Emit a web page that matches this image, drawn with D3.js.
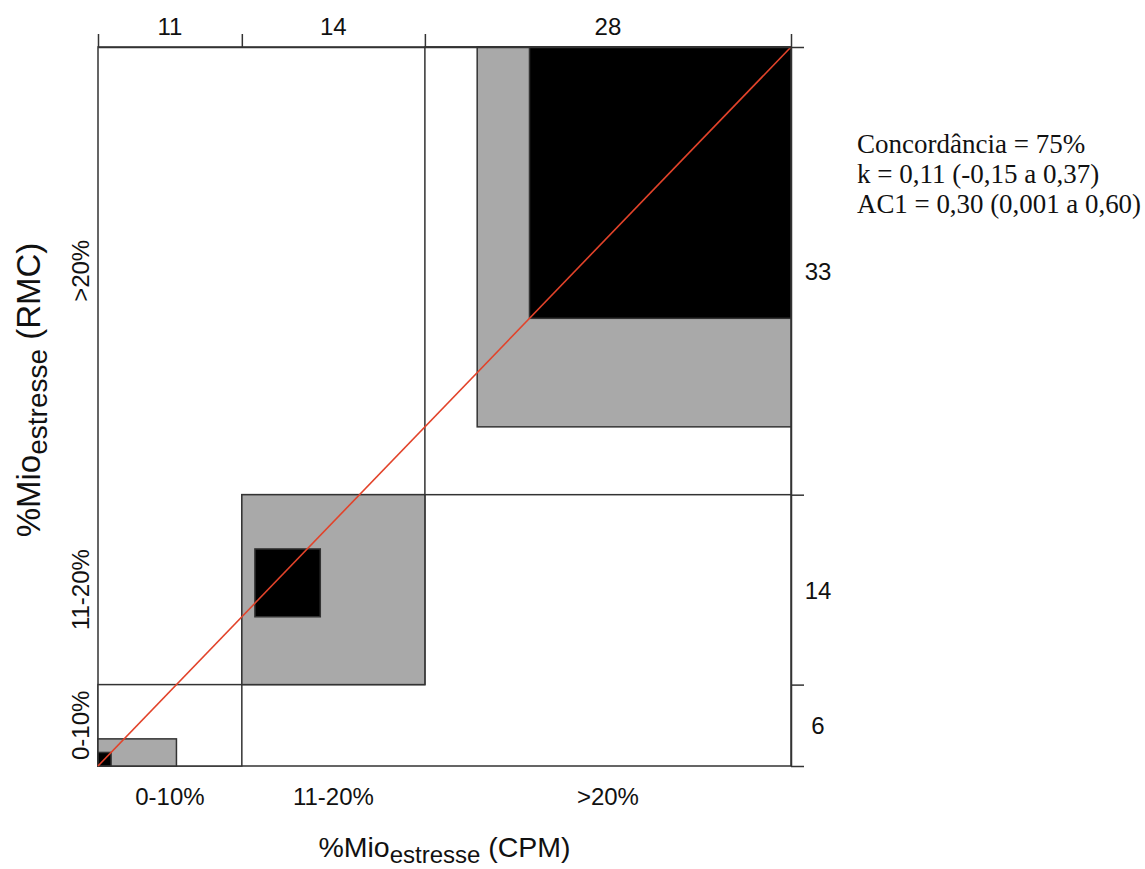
<!DOCTYPE html>
<html>
<head>
<meta charset="utf-8">
<script src="https://cdn.jsdelivr.net/npm/d3@7"></script>
<style>
  body { margin: 0; background: #fff; }
  text { font-family: "Liberation Sans", Arial, sans-serif; fill: #111; }
</style>
</head>
<body>
<div id="chart"></div>
<script>
// categories (same for both methods)
const cpmCats = ["0-10%", "11-20%", ">20%"];
const rmcCats = ["0-10%", "11-20%", ">20%"];
// counts: rows = RMC, columns = CPM
const counts = [
  [1, 1, 4],
  [5, 5, 4],
  [5, 8, 20]
];
// agreement weights (exact, partial)
const weights = [1, 0.75];
const statsLines = [
  "Concordância = 75%",
  "k = 0,11 (-0,15 a 0,37)",
  "AC1 = 0,30 (0,001 a 0,60)"
];

const W = 1145, H = 869;
const plotL = 98, plotR = 791, plotT = 47, plotB = 766;

const svg = d3.select("#chart").append("svg")
  .attr("width", W).attr("height", H);

const nc = cpmCats.length;
const colTot = d3.range(nc).map(c => d3.sum(counts, r => r[c]));
const rowTot = counts.map(r => d3.sum(r));
const n = d3.sum(colTot);
const xc = [0].concat(Array.from(d3.cumsum(colTot)));
const yc = [0].concat(Array.from(d3.cumsum(rowTot)));

const x = d3.scaleLinear().domain([0, n]).range([plotL, plotR]);
const y = d3.scaleLinear().domain([0, n]).range([plotB, plotT]);

const grayFor = w => { const g = Math.round(255 * Math.sqrt(1 - w * w)); return `rgb(${g},${g},${g})`; };

// build rectangles like vcd::agreementplot
const rects = [];
for (let i = 0; i < nc; i++) {
  rects.push({x0: xc[i], y0: yc[i], w: colTot[i], h: rowTot[i], fill: "#fff"});
  for (let j = weights.length; j >= 1; j--) {
    const lb = Math.max(0, i - j + 1), ub = Math.min(nc - 1, i + j - 1);
    let xoff = 0, yoff = 0, w = 0, h = 0;
    for (let r = 0; r < lb; r++) xoff += counts[r][i];
    for (let c = 0; c < lb; c++) yoff += counts[i][c];
    for (let k = lb; k <= ub; k++) { w += counts[k][i]; h += counts[i][k]; }
    rects.push({x0: xc[i] + xoff, y0: yc[i] + yoff, w: w, h: h, fill: grayFor(weights[j - 1])});
  }
}

// outer frame of the plot region
svg.append("rect")
  .attr("x", x(0)).attr("y", y(n))
  .attr("width", x(n) - x(0)).attr("height", y(0) - y(n))
  .attr("fill", "none")
  .attr("stroke", "#333")
  .attr("stroke-width", 1.5);

svg.selectAll("rect.cell")
  .data(rects)
  .join("rect")
    .attr("class", "cell")
    .attr("x", d => x(d.x0))
    .attr("y", d => y(d.y0 + d.h))
    .attr("width", d => x(d.w) - x(0))
    .attr("height", d => y(0) - y(d.h))
    .attr("fill", d => d.fill)
    .attr("stroke", "#333")
    .attr("stroke-width", 1.5);

// diagonal
svg.append("line")
  .attr("x1", x(0)).attr("y1", y(0))
  .attr("x2", x(n)).attr("y2", y(n))
  .attr("stroke", "#e2432a")
  .attr("stroke-width", 1.6);

// top axis with column totals
const topAxis = svg.append("g")
  .attr("transform", `translate(0,${plotT})`)
  .call(d3.axisTop(x).tickValues(xc).tickFormat("").tickSize(13).tickSizeOuter(0));
// right axis with row totals
const rightAxis = svg.append("g")
  .attr("transform", `translate(${plotR},0)`)
  .call(d3.axisRight(y).tickValues(yc).tickFormat("").tickSize(13).tickSizeOuter(0));
[topAxis, rightAxis].forEach(g => {
  g.selectAll("path, line").attr("stroke", "#333").attr("stroke-width", 1.5);
});

svg.selectAll("text.coltot")
  .data(colTot)
  .join("text")
    .attr("class", "coltot")
    .attr("x", (d, i) => x(xc[i] + d / 2))
    .attr("y", 35)
    .attr("text-anchor", "middle")
    .attr("font-size", 24)
    .text(d => d);

svg.selectAll("text.rowtot")
  .data(rowTot)
  .join("text")
    .attr("class", "rowtot")
    .attr("x", 818)
    .attr("y", (d, i) => y(yc[i] + d / 2) + 9)
    .attr("text-anchor", "middle")
    .attr("font-size", 24)
    .text(d => d);

// category labels
svg.selectAll("text.xcat")
  .data(cpmCats)
  .join("text")
    .attr("class", "xcat")
    .attr("x", (d, i) => x(xc[i] + colTot[i] / 2))
    .attr("y", 805)
    .attr("text-anchor", "middle")
    .attr("font-size", 24)
    .text(d => d);

svg.selectAll("text.ycat")
  .data(rmcCats)
  .join("text")
    .attr("class", "ycat")
    .attr("transform", (d, i) => `translate(89,${y(yc[i] + rowTot[i] / 2)}) rotate(-90)`)
    .attr("text-anchor", "middle")
    .attr("font-size", 24)
    .text(d => d);

// axis titles
function title(g, method, sub, shift) {
  g.append("tspan").text("%Mio");
  g.append("tspan").attr("font-size", sub).attr("dy", shift).text("estresse");
  g.append("tspan").attr("dy", -shift).text(` (${method})`);
}
const xTitle = svg.append("text")
  .attr("x", (plotL + plotR) / 2)
  .attr("y", 857)
  .attr("text-anchor", "middle")
  .attr("font-size", 28.5);
title(xTitle, "CPM", 24, 6);

const yTitle = svg.append("text")
  .attr("transform", "translate(40,390) rotate(-90)")
  .attr("text-anchor", "middle")
  .attr("font-size", 33);
title(yTitle, "RMC", 28, 7);

// agreement statistics
const maxW = W - 857 - 4;
svg.selectAll("text.stat")
  .data(statsLines)
  .join("text")
    .attr("class", "stat")
    .attr("x", 857)
    .attr("y", (d, i) => 153 + i * 30)
    .attr("font-size", 27)
    .style("font-family", "'Liberation Serif', serif")
    .text(d => d)
    .each(function() {
      if (this.getComputedTextLength() > maxW) {
        d3.select(this).attr("textLength", maxW).attr("lengthAdjust", "spacingAndGlyphs");
      }
    });
</script>
</body>
</html>
